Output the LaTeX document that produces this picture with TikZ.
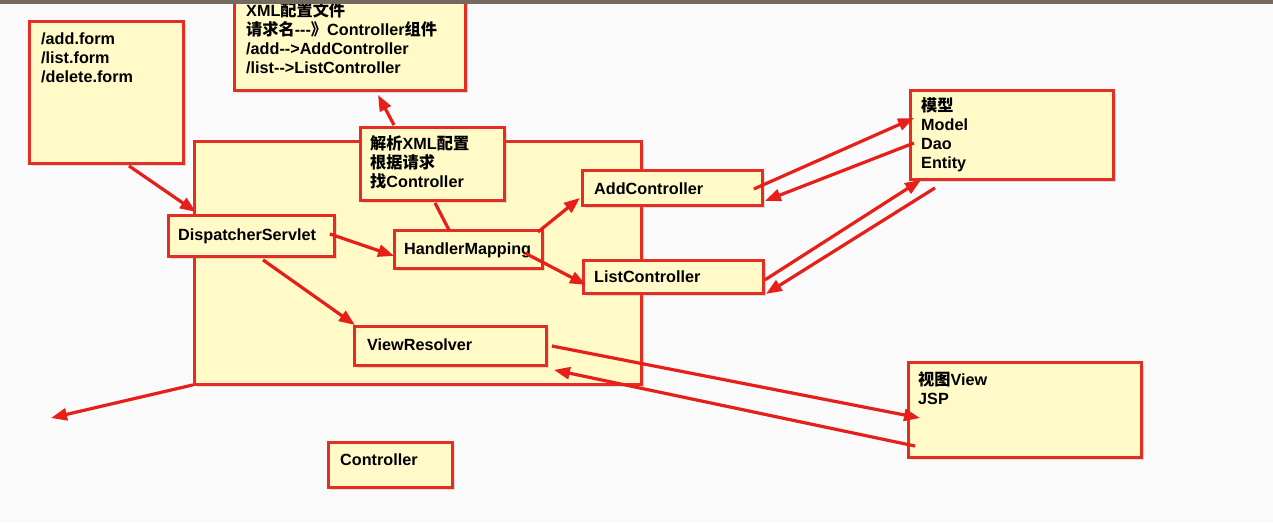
\documentclass[tikz,border=0pt]{standalone}
\usepackage{fontspec}
\setmainfont{Liberation Sans}
\newfontfamily\cjk{Noto Sans CJK SC}
\usetikzlibrary{arrows.meta,calc,shadows}
\definecolor{bg}{RGB}{250,250,250}
\definecolor{boxfill}{RGB}{255,250,200}
\definecolor{boxline}{RGB}{228,45,35}
\definecolor{arr}{RGB}{232,30,25}
\definecolor{bar}{RGB}{115,105,95}
\newcommand\fst{\rule{0pt}{15pt}}
\begin{document}
\begin{tikzpicture}[x=1pt,y=-1pt,
  box/.style={draw=boxline,line width=2.9pt,fill=boxfill,rectangle,inner sep=0pt,anchor=north west,
    drop shadow={shadow xshift=2.5pt,shadow yshift=-2.5pt,opacity=0.25}},
  txt/.style={inner sep=0pt,align=left,font=\fontsize{16.2}{19}\selectfont\bfseries},
  con/.style={draw=arr,line width=3.2pt,-{Triangle[length=16pt,width=12pt]}},
  plainline/.style={draw=arr,line width=3.2pt}]
\useasboundingbox (0,0) rectangle (1273,523);
\fill[bg] (0,0) rectangle (1273,523);

% container
\node[box,minimum width=447pt,minimum height=243pt] (cont) at (193,140) {};
% inner boxes
\node[box,minimum width=166pt,minimum height=41pt] (disp) at (167,214) {};
\node[txt,anchor=base west] (dispt) at (178,240) {DispatcherServlet};
\node[box,minimum width=148pt,minimum height=38pt] (hm) at (393,229) {};
\node[txt,anchor=base west] (hmt) at (404,254) {HandlerMapping};
\node[box,minimum width=180pt,minimum height=35pt] (add) at (581,169) {};
\node[txt,anchor=base west] (addt) at (594,194) {AddController};
\node[box,minimum width=180pt,minimum height=33pt] (list) at (582,259) {};
\node[txt,anchor=base west] (listt) at (594,282) {ListController};
\node[box,minimum width=192pt,minimum height=39pt] (vr) at (353,325) {};
\node[txt,anchor=base west] (vrt) at (367,350) {ViewResolver};
% parse box
\node[box,minimum width=144pt,minimum height=73pt] (parse) at (359,126) {};
\node[txt,anchor=north west] (parset) at (370,134) {\fst{\cjk 解析}XML{\cjk 配置}\\{\cjk 根据请求}\\{\cjk 找}Controller};
% xml box
\node[box,minimum width=231pt,minimum height=99pt] (xml) at (233,-10) {};
\node[txt,anchor=north west] (xmlt) at (246,1) {\fst XML{\cjk 配置文件}\\{\cjk 请求名}-{}-{}-{\cjk 》}Controller{\cjk 组件}\\/add-{}->AddController\\/list-{}->ListController};
% request box
\node[box,minimum width=154pt,minimum height=142pt] (req) at (28,20) {};
\node[txt,anchor=north west] (reqt) at (41,29) {\fst/add.form\\/list.form\\/delete.form};
% controller
\node[box,minimum width=124pt,minimum height=45pt] (ctrl) at (327,441) {};
\node[txt,anchor=base west] (ctrlt) at (340,465) {Controller};
% model
\node[box,minimum width=203pt,minimum height=89pt] (model) at (909,89) {};
\node[txt,anchor=north west] (modelt) at (921,96) {\fst{\cjk 模型}\\Model\\Dao\\Entity};
% view
\node[box,minimum width=233pt,minimum height=95pt] (view) at (907,361) {};
\node[txt,anchor=north west] (viewt) at (918,370) {\fst{\cjk 视图}View\\JSP};

\coordinate (free) at (51,418);

% connectors
\draw[con] ($(req.south west)+(101,1)$) -- ($(disp.north west)+(29,-2)$);
\draw[con] ($(parse.north west)+(35,-1)$) -- ($(xml.south west)+(145,3)$);
\draw[plainline] ($(parse.south west)+(76,1)$) -- ($(hm.north west)+(56,1)$);
\draw[con] ($(disp.east)+(-6,-2)$) -- ($(hm.south west)+(1,-14)$);
\draw[con] ($(hm.north east)+(-6,3)$) -- ($(add.south west)+(-1,-9)$);
\draw[con] ($(hm.north east)+(-19,24)$) -- ($(list.south west)+(4,-10)$);
\draw[con] ($(disp.south west)+(96,2)$) -- ($(vr.north west)+(2,0)$);
\draw[con] ($(add.east)+(-10,1)$) -- ($(model.north west)+(5,29)$);
\draw[con] ($(model.north west)+(5,54)$) -- ($(add.south east)+(1,-6)$);
\draw[con] ($(list.south east)+(0,-15)$) -- ($(model.south west)+(12,-1)$);
\draw[con] ($(model.south west)+(26,7)$) -- ($(list.south east)+(1,-1)$);
\draw[con] ($(vr.north east)+(4,21)$) -- ($(view.north west)+(13,57)$);
\draw[con] ($(view.north west)+(8,85)$) -- ($(vr.south east)+(6,3)$);
\draw[con] ($(cont.south west)+(0,-1)$) -- (free);

% window top bar
\fill[bar] (0,0) rectangle (1273,4);
\end{tikzpicture}
\end{document}
